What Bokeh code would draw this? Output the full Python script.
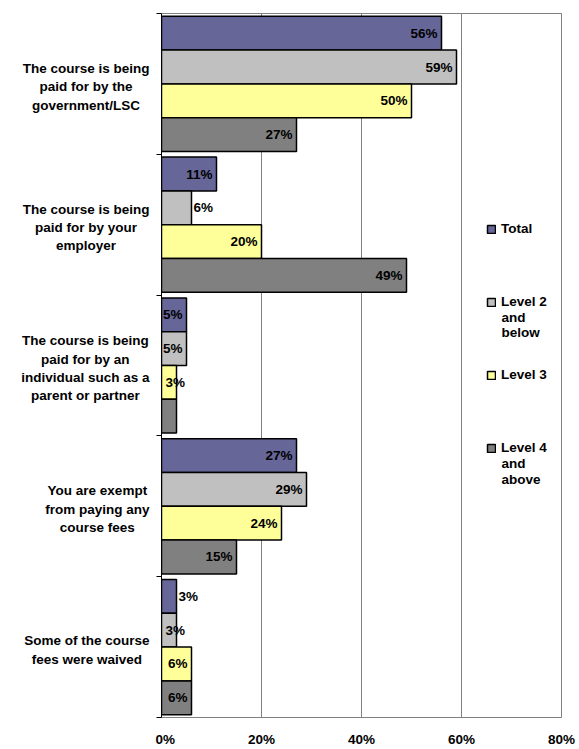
from bokeh.plotting import figure
from bokeh.layouts import row
from bokeh.models import (Range1d, FixedTicker, Legend, LegendItem, Label,
                          ColumnDataSource, PrintfTickFormatter)
from bokeh.core.properties import value
from bokeh.embed import file_html
from bokeh.resources import INLINE

# ---------------- data ----------------
categories = [
    "The course is being\npaid for by the\ngovernment/LSC",
    "The course is being\npaid for by your\nemployer",
    "The course is being\npaid for by an\nindividual such as a\nparent or partner",
    "You are exempt\nfrom paying any\ncourse fees",
    "Some of the course\nfees were waived",
]
series_names = ["Total", "Level 2 and below", "Level 3", "Level 4 and above"]
total = [56, 11, 5, 27, 3]
level2 = [59, 6, 5, 29, 3]
level3 = [50, 20, 3, 24, 6]
level4 = [27, 49, 3, 15, 6]
# value labels (None = no label shown)
labels_total = ["56%", "11%", "5%", "27%", "3%"]
labels_level2 = ["59%", "6%", "5%", "29%", "3%"]
labels_level3 = ["50%", "20%", "3%", "24%", "6%"]
labels_level4 = ["27%", "49%", None, "15%", "6%"]
x_ticks = [0, 20, 40, 60, 80]

# ---------------- styling ----------------
FONT = "Liberation Sans"
FS = "13.5px"
colors = ["#666699", "#C0C0C0", "#FFFF99", "#808080"]
offsets = [-0.36, -0.12, 0.12, 0.36]
BAR_H = 0.24
# label placement exceptions (category index, series index)
label_outside = {(1, 1), (4, 0)}
label_base = {(2, 2), (4, 1)}

all_vals = [total, level2, level3, level4]
all_labels = [labels_total, labels_level2, labels_level3, labels_level4]

H = 749
TOP = 13
BOTTOM = 31
FRAME_BOTTOM = H - BOTTOM  # screen y of the plot bottom
y_range = Range1d(len(categories) - 0.5, -0.5)
LEFT_W = 155

p = figure(width=579 - LEFT_W, height=H, output_backend="svg",
           toolbar_location=None, x_range=Range1d(0, 80), y_range=y_range,
           min_border_left=6, min_border_right=18, min_border_top=TOP,
           min_border_bottom=BOTTOM)
p.background_fill_color = "white"
p.border_fill_color = "white"
p.outline_line_color = "#808080"
p.outline_line_width = 1

# x axis
p.xaxis.ticker = FixedTicker(ticks=x_ticks)
p.xaxis.formatter = PrintfTickFormatter(format="%d%%")
p.xaxis.major_tick_line_color = None
p.xaxis.major_tick_out = 0
p.xaxis.major_tick_in = 0
p.xaxis.minor_tick_line_color = None
p.xaxis.axis_line_color = "#808080"
p.xaxis.major_label_standoff = 14
p.xaxis.major_label_text_font = FONT
p.xaxis.major_label_text_font_style = "bold"
p.xaxis.major_label_text_font_size = FS
p.xaxis.major_label_text_color = "black"

# y axis (category boundaries as ticks, no labels)
y_ticks = [i - 0.5 for i in range(len(categories) + 1)]
p.yaxis.ticker = FixedTicker(ticks=y_ticks)
p.yaxis.major_tick_out = 5
p.yaxis.major_tick_in = 0
p.yaxis.minor_tick_line_color = None
p.yaxis.axis_line_color = "black"
p.yaxis.major_tick_line_color = "black"
p.yaxis.major_label_overrides = {t: "" for t in y_ticks}
p.yaxis.major_label_standoff = 0

p.xgrid.ticker = FixedTicker(ticks=x_ticks)
p.xgrid.grid_line_color = "#808080"
p.ygrid.grid_line_color = None

renderers = []
for j, (vals, col) in enumerate(zip(all_vals, colors)):
    ys = [i + offsets[j] for i in range(len(categories))]
    r = p.hbar(y=ys, left=0, right=vals, height=BAR_H, fill_color=col,
               line_color="black", line_width=1.5)
    renderers.append(r)

# value labels
groups = {"in": dict(x=[], y=[], t=[]), "out": dict(x=[], y=[], t=[]),
          "base": dict(x=[], y=[], t=[])}
for j, (vals, labs) in enumerate(zip(all_vals, all_labels)):
    for i, (v, lab) in enumerate(zip(vals, labs)):
        if lab is None:
            continue
        y = i + offsets[j]
        if (i, j) in label_outside:
            g = groups["out"]; g["x"].append(v)
        elif (i, j) in label_base:
            g = groups["base"]; g["x"].append(0)
        else:
            g = groups["in"]; g["x"].append(v)
        g["y"].append(y); g["t"].append(lab)

settings = {"in": ("right", -4), "out": ("left", 2), "base": ("left", 4)}
for k, g in groups.items():
    align, off = settings[k]
    src = ColumnDataSource(dict(x=g["x"], y=g["y"], t=g["t"]))
    p.text(x="x", y="y", text="t", source=src, text_font=value(FONT),
           text_font_style="bold", text_font_size=FS, text_color="black",
           text_align=align, text_baseline="middle", x_offset=off)

# legend (positions relative to the plot frame's bottom-left corner)
LEG_TOP_CENTER = 229
LEG_STEP = 73.3
legend = Legend(items=[LegendItem(label=s.split(" and ")[0], renderers=[r])
                       for s, r in zip(series_names, renderers)],
                location=(325, FRAME_BOTTOM - (LEG_TOP_CENTER - 8 + 3 * LEG_STEP + 16)),
                orientation="vertical")
legend.border_line_color = None
legend.background_fill_alpha = 0
legend.padding = 0
legend.margin = 0
legend.spacing = 57
legend.glyph_width = 10
legend.glyph_height = 10
legend.label_height = 16
legend.label_standoff = 5
legend.label_text_font = FONT
legend.label_text_font_style = "bold"
legend.label_text_font_size = FS
legend.label_text_color = "black"
p.add_layout(legend)

# continuation lines of legend labels
for j, s in enumerate(series_names):
    parts = s.split(" and ")
    if len(parts) < 2:
        continue
    lines = ["and"] + parts[1:]
    item_center = FRAME_BOTTOM - LEG_TOP_CENTER - j * LEG_STEP
    for k, line in enumerate(lines):
        p.add_layout(Label(x=340, y=item_center - 15.5 * (k + 1),
                           x_units="screen", y_units="screen", text=line,
                           text_align="left", text_baseline="middle",
                           text_font=FONT, text_font_style="bold",
                           text_font_size=FS, text_color="black"))

# left panel with the category labels (shares the y range)
lp = figure(width=LEFT_W, height=H, output_backend="svg",
            toolbar_location=None, x_range=Range1d(0, LEFT_W), y_range=y_range,
            x_axis_type=None, y_axis_type=None,
            min_border_left=0, min_border_right=0, min_border_top=TOP,
            min_border_bottom=BOTTOM)
lp.outline_line_color = None
lp.grid.visible = False
lp.background_fill_color = "white"
lp.border_fill_color = "white"
cat_src = ColumnDataSource(dict(x=[LEFT_W - 6] * len(categories),
                                y=[i + 0.02 for i in range(len(categories))],
                                t=categories))
lp.text(x="x", y="y", text="t", source=cat_src, anchor="center_right",
        text_align="center", text_baseline="middle", text_font=value(FONT),
        text_font_style="bold", text_font_size=FS, text_color="black",
        text_line_height=1.22)

layout = row(lp, p, spacing=0)
open("out.html", "w").write(file_html(layout, INLINE))
